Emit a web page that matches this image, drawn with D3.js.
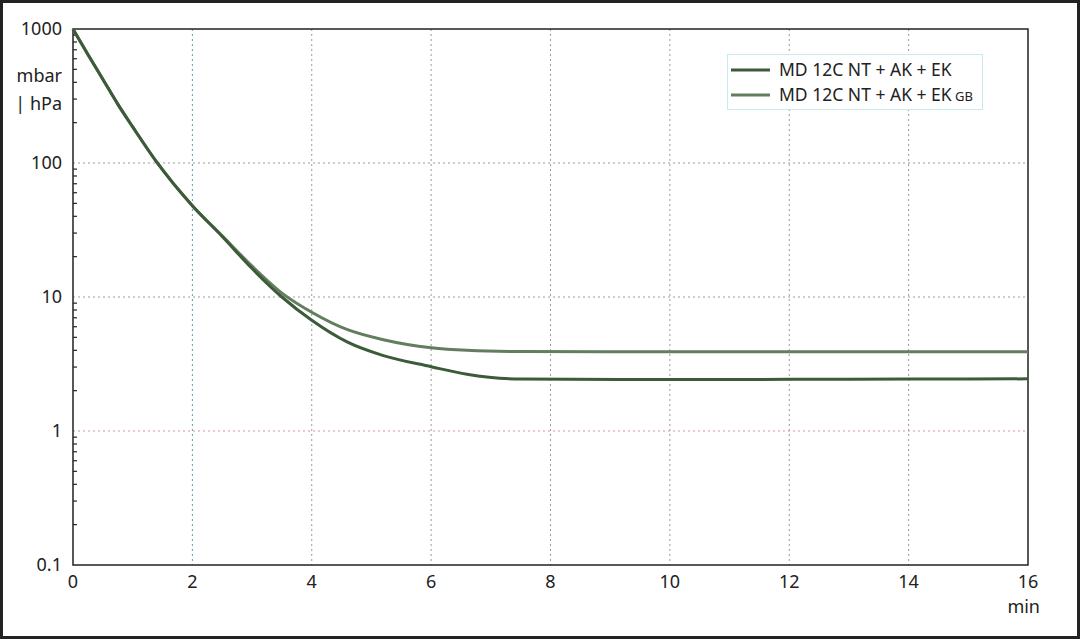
<!DOCTYPE html>
<html><head><meta charset="utf-8">
<script src="https://cdn.jsdelivr.net/npm/d3@7"></script>
<style>
html,body{margin:0;padding:0;background:#fff;}
svg{display:block;}
text{font-family:"Noto Sans","Open Sans",sans-serif;fill:#222;}
</style></head>
<body>
<svg id="chart" width="1080" height="639"></svg>
<script>
// ---- data ----
const timeMin = [0, 0.25, 0.5, 0.75, 1.0, 1.4, 2.0, 2.5, 3.0, 3.5, 4.0, 4.6, 5.2, 6.0, 6.6, 7.5, 10, 12, 14, 16];
const seriesEK = [1000, 646, 422, 275, 186, 102, 48, 28.3, 16.3, 10.0, 6.7, 4.6, 3.65, 3.02, 2.65, 2.44, 2.42, 2.43, 2.44, 2.45];
const seriesEKGB = [1000, 646, 422, 275, 186, 102, 48, 28.6, 17.0, 10.7, 7.7, 5.7, 4.8, 4.18, 4.0, 3.92, 3.9, 3.9, 3.9, 3.9];
const seriesNames = ["MD 12C NT + AK + EK", "MD 12C NT + AK + EK"];
const seriesSuffix = ["", "GB"];
const xTicks = [0, 2, 4, 6, 8, 10, 12, 14, 16];
const yTicks = [0.1, 1, 10, 100, 1000];
const yTickLabels = ["0.1", "1", "10", "100", "1000"];
const yUnit = ["mbar", "| hPa"];
const xUnit = "min";

const colors = ["#3c5b38", "#637e5f"];

const svg = d3.select("#chart");
const W = 1080, H = 639;
const m = {left: 73, right: 1028, top: 29, bottom: 565};

svg.append("rect").attr("x", 1.5).attr("y", 1.5).attr("width", W - 3).attr("height", H - 3)
  .attr("fill", "#fff").attr("stroke", "#222").attr("stroke-width", 3);

const x = d3.scaleLinear().domain([0, 16]).range([m.left, m.right]);
const y = d3.scaleLog().domain([0.1, 1000]).range([m.bottom, m.top]);

// grid lines
const g = svg.append("g");
xTicks.filter(t => t > 0 && t < 16).forEach(t => {
  g.append("line").attr("x1", x(t)).attr("x2", x(t)).attr("y1", m.top).attr("y2", m.bottom)
    .attr("stroke", t === 2 ? "#4da3ad" : "#9a9a9a").attr("stroke-width", 1)
    .attr("stroke-dasharray", "2,3");
});
yTicks.filter(t => t > 0.1 && t < 1000).forEach(t => {
  g.append("line").attr("x1", m.left).attr("x2", m.right).attr("y1", y(t)).attr("y2", y(t))
    .attr("stroke", t === 1 ? "#c99a9a" : "#9a9a9a").attr("stroke-width", 1)
    .attr("stroke-dasharray", "2,3");
});

// frame
svg.append("rect").attr("x", m.left).attr("y", m.top).attr("width", m.right - m.left)
  .attr("height", m.bottom - m.top).attr("fill", "none").attr("stroke", "#222").attr("stroke-width", 1.5);

// minor ticks on y axis (inward)
const minor = [];
[0.1, 1, 10, 100].forEach(d => { for (let k = 2; k <= 9; k++) minor.push(d * k); });
svg.append("g").selectAll("line").data(minor).join("line")
  .attr("x1", m.left).attr("x2", m.left + 4).attr("y1", d => y(d)).attr("y2", d => y(d))
  .attr("stroke", "#222").attr("stroke-width", 1.2);

// y tick labels
svg.append("g").selectAll("text").data(yTicks).join("text")
  .attr("x", 62).attr("y", d => y(d)).attr("dy", "0.35em").attr("text-anchor", "end")
  .attr("font-size", 18).text((d, i) => yTickLabels[i]);

// y unit
yUnit.forEach((u, i) => {
  svg.append("text").attr("x", 62).attr("y", 82 + i * 28).attr("text-anchor", "end")
    .attr("font-size", 18).text(u);
});

// x tick labels
svg.append("g").selectAll("text").data(xTicks).join("text")
  .attr("x", d => x(d)).attr("y", 588).attr("text-anchor", "middle")
  .attr("font-size", 18).text(d => d);
svg.append("text").attr("x", 1040).attr("y", 613).attr("text-anchor", "end")
  .attr("font-size", 18).text(xUnit);

// lines
const line = d3.line().x(d => x(d[0])).y(d => y(d[1])).curve(d3.curveMonotoneX);
const data = [seriesEKGB, seriesEK];
const cols = [colors[1], colors[0]];
data.forEach((s, i) => {
  svg.append("path").datum(timeMin.map((t, j) => [t, s[j]]))
    .attr("d", line).attr("fill", "none").attr("stroke", cols[i])
    .attr("stroke-width", 3).attr("stroke-linejoin", "round");
});

// legend
const lg = svg.append("g");
lg.append("rect").attr("x", 727.5).attr("y", 54.5).attr("width", 255).attr("height", 55)
  .attr("fill", "#fff").attr("stroke", "#c6ecef").attr("stroke-width", 1);
seriesNames.forEach((n, i) => {
  const yy = 70 + i * 25;
  lg.append("line").attr("x1", 731).attr("x2", 770).attr("y1", yy).attr("y2", yy)
    .attr("stroke", colors[i]).attr("stroke-width", 3);
  const t = lg.append("text").attr("x", 779).attr("y", yy).attr("dy", "0.35em")
    .attr("font-size", 17.5).text(n);
  if (seriesSuffix[i]) t.append("tspan").attr("font-size", 13).text(" " + seriesSuffix[i]);
});
</script>
</body></html>
